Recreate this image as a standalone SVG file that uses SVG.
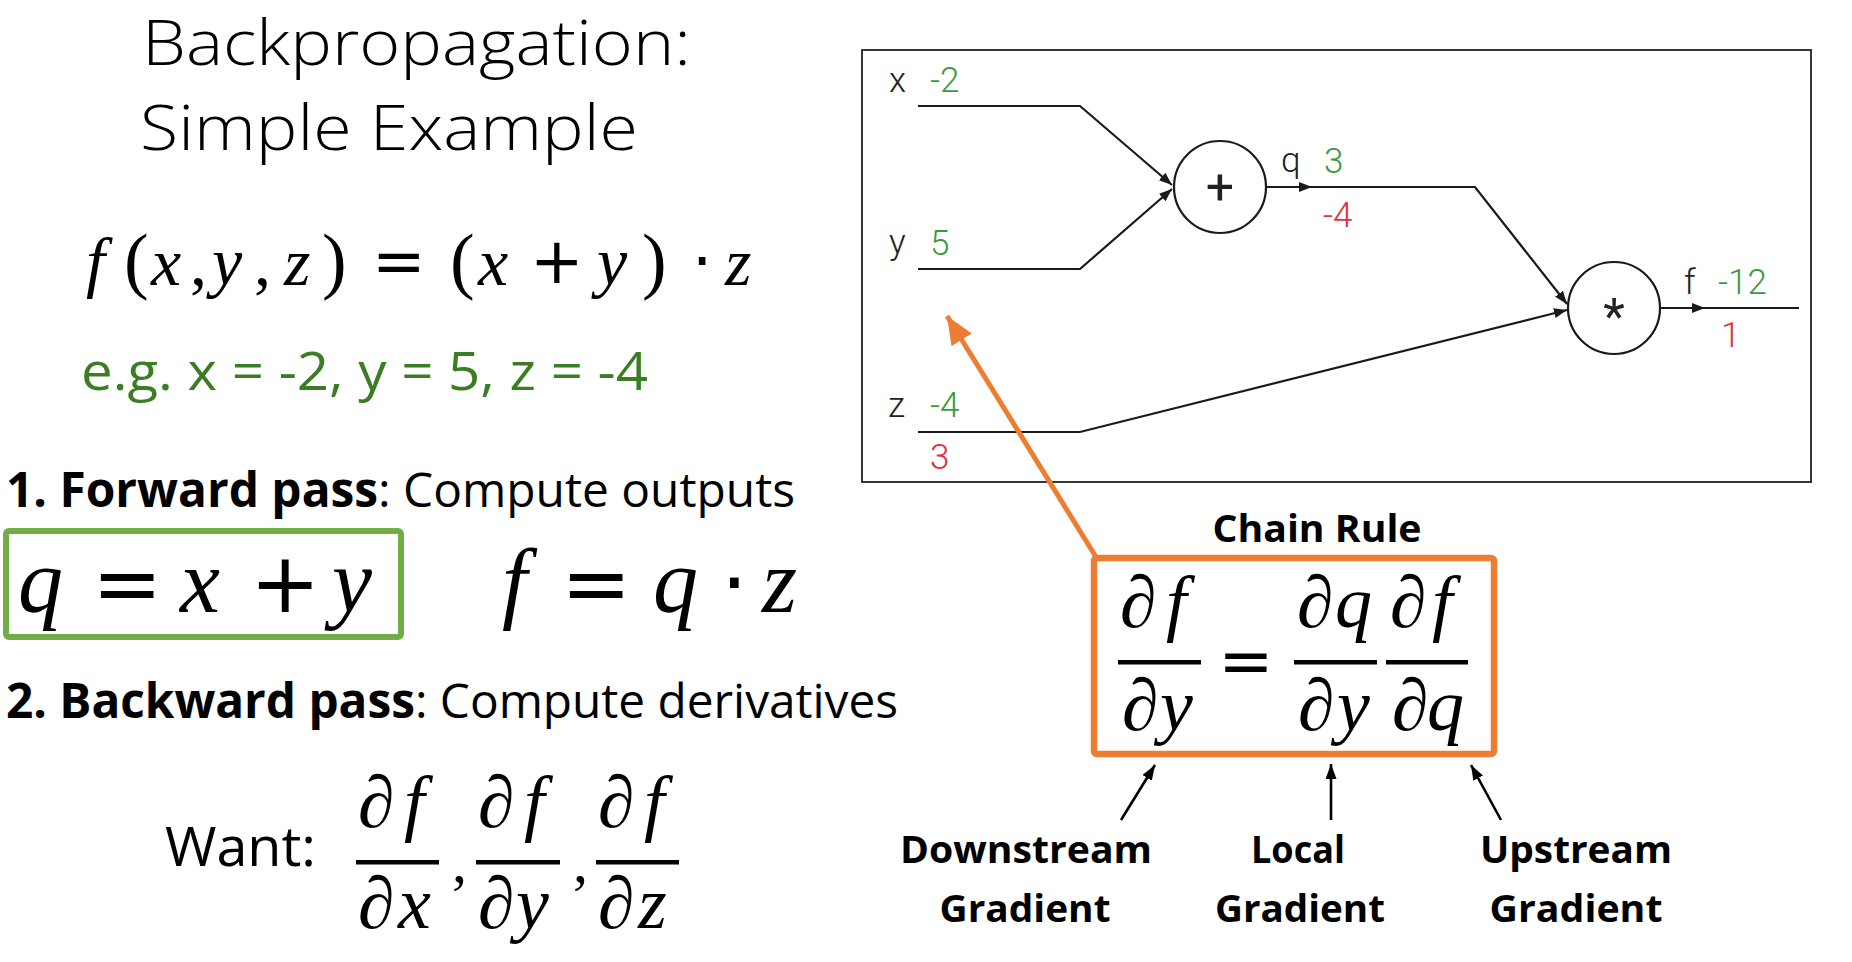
<svg xmlns="http://www.w3.org/2000/svg" width="1852" height="962" viewBox="0 0 1852 962">
<style>
.ttl{font-family:"Open Sans","Liberation Sans",sans-serif;font-size:63px;fill:#000;font-weight:300}
.body{font-family:"Open Sans","Liberation Sans",sans-serif;font-size:48px;fill:#000}
.b{font-weight:700}
.eg{font-family:"Open Sans","Liberation Sans",sans-serif;font-size:53px;fill:#3b7d23}
.mi{font-family:"Liberation Serif","DejaVu Serif",serif;font-style:italic;fill:#000}
.mu{font-family:"Liberation Serif","DejaVu Serif",serif;fill:#000}
.op{font-family:"DejaVu Sans",sans-serif;fill:#000}
.pd{font-family:"Liberation Serif","DejaVu Serif",serif;font-style:italic;font-size:74px;fill:#000}
.g{font-family:Roboto,"Liberation Sans",sans-serif;font-size:35px;font-weight:300}
.sym{font-family:Roboto,"Liberation Sans",sans-serif;font-size:50px;font-weight:400;fill:#222;text-anchor:middle}
.gk{fill:#222}
.gg{fill:#3a9a3e}
.gr{fill:#d9343a}
.wire{fill:none;stroke:#1a1a1a;stroke-width:2.2}
.node{fill:#fff;stroke:#1a1a1a;stroke-width:2.2}
.lbl{font-family:"Open Sans","Liberation Sans",sans-serif;font-size:38px;font-weight:700;fill:#000;text-anchor:middle}
.bar{fill:#000}
</style>
<defs>
<marker id="ga" markerUnits="userSpaceOnUse" markerWidth="14" markerHeight="12" refX="13" refY="5" orient="auto"><path d="M0,0 L13,5 L0,10 z" fill="#1a1a1a"/></marker>
<marker id="oa" markerUnits="userSpaceOnUse" markerWidth="30" markerHeight="26" refX="28" refY="12" orient="auto"><path d="M0,0 L28,12 L0,24 z" fill="#ed7d31"/></marker>
<marker id="ba" markerUnits="userSpaceOnUse" markerWidth="16" markerHeight="12" refX="15" refY="5.5" orient="auto"><path d="M0,0 L15,5.5 L0,11 z" fill="#000"/></marker>
</defs>
<rect width="1852" height="962" fill="#fff"/>

<g id="title">
<text class="ttl" x="142" y="65" textLength="549" lengthAdjust="spacingAndGlyphs">Backpropagation:</text>
<text class="ttl" x="140" y="150" textLength="498" lengthAdjust="spacingAndGlyphs">Simple Example</text>
</g>

<g id="function">
<text class="mi" font-size="68" x="86" y="285">f</text>
<text class="mu" font-size="74" x="124" y="285">(</text>
<text class="mi" font-size="68" x="151" y="285">x</text>
<text class="mu" font-size="68" x="190" y="285">,</text>
<text class="mi" font-size="68" x="212" y="285">y</text>
<text class="mu" font-size="68" x="254" y="285">,</text>
<text class="mi" font-size="68" x="284" y="285">z</text>
<text class="mu" font-size="74" x="322" y="285">)</text>
<text class="op" font-size="64" x="372" y="283">=</text>
<text class="mu" font-size="74" x="450" y="285">(</text>
<text class="mi" font-size="68" x="478" y="285">x</text>
<text class="op" font-size="64" x="530" y="283">+</text>
<text class="mi" font-size="68" x="597" y="285">y</text>
<text class="mu" font-size="74" x="642" y="285">)</text>
<text class="op" font-size="64" x="692" y="283">·</text>
<text class="mi" font-size="68" x="725" y="285">z</text>
</g>

<g id="example">
<text class="eg" x="81" y="390" textLength="567" lengthAdjust="spacingAndGlyphs">e.g. x = -2, y = 5, z = -4</text>
</g>

<g id="forward">
<text class="body" x="6" y="507" textLength="789" lengthAdjust="spacingAndGlyphs"><tspan class="b">1. Forward pass</tspan>: Compute outputs</text>
<rect x="6" y="531" width="395" height="106" rx="3" fill="none" stroke="#70ad47" stroke-width="6"/>
<text class="mi" font-size="90" x="18" y="612">q</text>
<text class="op" font-size="84" x="92" y="612">=</text>
<text class="mi" font-size="90" x="180" y="612">x</text>
<text class="op" font-size="84" x="250" y="612">+</text>
<text class="mi" font-size="90" x="332" y="612">y</text>
<text class="mi" font-size="90" x="502" y="612">f</text>
<text class="op" font-size="84" x="561" y="612">=</text>
<text class="mi" font-size="90" x="653" y="612">q</text>
<text class="op" font-size="84" x="721" y="612">·</text>
<text class="mi" font-size="90" x="762" y="612">z</text>
</g>

<g id="backward">
<text class="body" x="6" y="718" textLength="892" lengthAdjust="spacingAndGlyphs"><tspan class="b">2. Backward pass</tspan>: Compute derivatives</text>
<text class="body" style="font-size:55px" x="165" y="866" textLength="151" lengthAdjust="spacingAndGlyphs">Want:</text>
<text class="pd" x="358 404" y="827">∂f</text>
<rect class="bar" x="356" y="860" width="83" height="4.5"/>
<text class="pd" x="358 398" y="928">∂x</text>
<text class="mu" font-size="60" x="452" y="882">,</text>
<text class="pd" x="478 524" y="827">∂f</text>
<rect class="bar" x="476" y="860" width="84" height="4.5"/>
<text class="pd" x="478 516" y="928">∂y</text>
<text class="mu" font-size="60" x="573" y="882">,</text>
<text class="pd" x="598 644" y="827">∂f</text>
<rect class="bar" x="596" y="860" width="83" height="4.5"/>
<text class="pd" x="598 638" y="928">∂z</text>
</g>

<g id="graph-frame">
<rect x="862" y="50" width="949" height="432" fill="#fff" stroke="#222" stroke-width="1.8"/>
</g>

<g id="connectors">
<path class="wire" d="M918,106 H1080 L1172,185" marker-end="url(#ga)"/>
<path class="wire" d="M918,269 H1080 L1172,189" marker-end="url(#ga)"/>
<path class="wire" d="M1266,187 H1312" marker-end="url(#ga)"/>
<path class="wire" d="M1310,187 H1475 L1567,304" marker-end="url(#ga)"/>
<path class="wire" d="M918,432 H1080 L1567,310" marker-end="url(#ga)"/>
<path class="wire" d="M1660,308 H1705" marker-end="url(#ga)"/>
<path class="wire" d="M1703,308 H1799"/>
<path d="M1096,557 L947,316" fill="none" stroke="#ed7d31" stroke-width="5" marker-end="url(#oa)"/>
<path d="M1121,820 L1155,765" fill="none" stroke="#000" stroke-width="2.6" marker-end="url(#ba)"/>
<path d="M1331,820 L1331,764" fill="none" stroke="#000" stroke-width="2.6" marker-end="url(#ba)"/>
<path d="M1501,820 L1471,765" fill="none" stroke="#000" stroke-width="2.6" marker-end="url(#ba)"/>
</g>

<g id="input-x">
<text class="g gk" x="889" y="92">x</text>
<text class="g gg" x="930" y="92">-2</text>
</g>
<g id="input-y">
<text class="g gk" x="889" y="254">y</text>
<text class="g gg" x="930" y="255">5</text>
</g>
<g id="input-z">
<text class="g gk" x="888" y="417">z</text>
<text class="g gg" x="930" y="417">-4</text>
<text class="g gr" x="930" y="469">3</text>
</g>
<g id="node-add">
<circle class="node" cx="1220" cy="187" r="46"/>
<text class="sym" x="1220" y="204">+</text>
<text class="g gk" x="1281" y="172">q</text>
<text class="g gg" x="1324" y="173">3</text>
<text class="g gr" x="1323" y="227">-4</text>
</g>
<g id="node-mul">
<circle class="node" cx="1614" cy="308" r="46"/>
<text class="sym" x="1614" y="334">*</text>
<text class="g gk" x="1684" y="294">f</text>
<text class="g gg" x="1718" y="294">-12</text>
<text class="g gr" x="1721" y="347">1</text>
</g>

<g id="chain-rule">
<text class="lbl" x="1317" y="542" textLength="209" lengthAdjust="spacingAndGlyphs">Chain Rule</text>
<rect x="1094" y="558" width="400" height="196" rx="3" fill="#fff" stroke="#ed7d31" stroke-width="6.5"/>
<text class="pd" x="1120 1166" y="627">∂f</text>
<rect class="bar" x="1118" y="660" width="83" height="4.5"/>
<text class="pd" x="1122 1160" y="730">∂y</text>
<text class="op" font-size="66" x="1246" y="683" text-anchor="middle">=</text>
<text class="pd" x="1297 1335" y="627">∂q</text>
<rect class="bar" x="1294" y="660" width="83" height="4.5"/>
<text class="pd" x="1298 1337" y="730">∂y</text>
<text class="pd" x="1390 1432" y="627">∂f</text>
<rect class="bar" x="1386" y="660" width="82" height="4.5"/>
<text class="pd" x="1392 1427" y="730">∂q</text>
</g>

<g id="label-downstream">
<text class="lbl" x="1026" y="863" textLength="252" lengthAdjust="spacingAndGlyphs">Downstream</text>
<text class="lbl" x="1025" y="922" textLength="171" lengthAdjust="spacingAndGlyphs">Gradient</text>
</g>
<g id="label-local">
<text class="lbl" x="1298" y="863" textLength="94" lengthAdjust="spacingAndGlyphs">Local</text>
<text class="lbl" x="1300" y="922" textLength="170" lengthAdjust="spacingAndGlyphs">Gradient</text>
</g>
<g id="label-upstream">
<text class="lbl" x="1576" y="863" textLength="192" lengthAdjust="spacingAndGlyphs">Upstream</text>
<text class="lbl" x="1576" y="922" textLength="173" lengthAdjust="spacingAndGlyphs">Gradient</text>
</g>
</svg>
